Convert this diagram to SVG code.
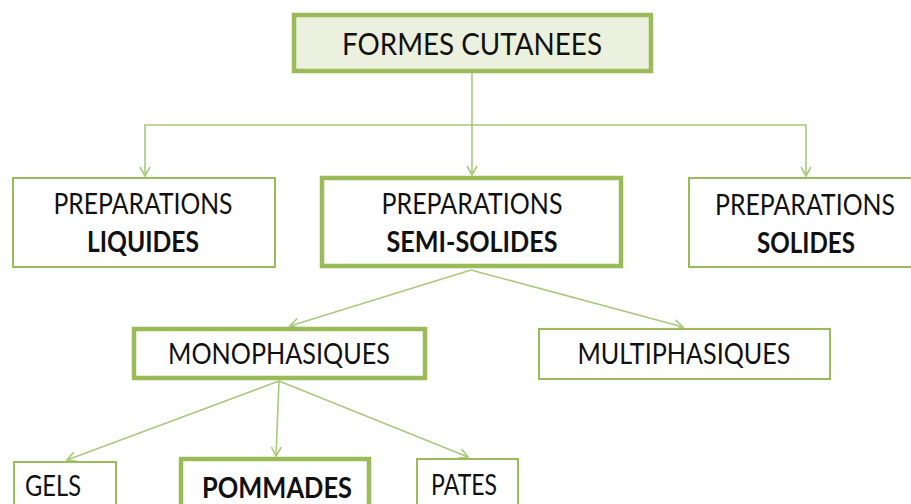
<svg xmlns="http://www.w3.org/2000/svg" width="911" height="504" viewBox="0 0 911 504">
<style>
  .box{fill:#ffffff;stroke:#9bbb59;stroke-width:2}
  .thick{fill:#ffffff;stroke:#9bbb59;stroke-width:4.5}
  .root{fill:#ebf1de;stroke:#9bbb59;stroke-width:4.5}
  .t{font-family:Lato,"Liberation Sans",sans-serif;font-size:28px;fill:#111111;text-anchor:middle}
  .b{font-weight:bold}
  .c{fill:none;stroke:#a9c97c;stroke-width:1.6}
</style>
<defs>
  <marker id="arr" markerUnits="userSpaceOnUse" markerWidth="14" markerHeight="14" refX="10" refY="6" orient="auto">
    <path d="M1,1 L10,6 L1,11" fill="none" stroke="#a9c97c" stroke-width="1.6"/>
  </marker>
</defs>
<g id="connectors">
  <path class="c" d="M472,73 V175" marker-end="url(#arr)"/>
  <path class="c" d="M472,125 H145 V176" marker-end="url(#arr)"/>
  <path class="c" d="M472,125 H806 V176" marker-end="url(#arr)"/>
  <path class="c" d="M471,270 L290,326" marker-end="url(#arr)"/>
  <path class="c" d="M471,270 L683,327" marker-end="url(#arr)"/>
  <path class="c" d="M279,381 L67,460" marker-end="url(#arr)"/>
  <path class="c" d="M279,381 L276,456" marker-end="url(#arr)"/>
  <path class="c" d="M279,381 L468,457" marker-end="url(#arr)"/>
</g>
<g id="formes-cutanees">
  <rect class="root" x="294" y="15" width="357" height="56"/>
  <text class="t" x="472" y="55" textLength="260" lengthAdjust="spacingAndGlyphs" style="font-size:31px">FORMES CUTANEES</text>
</g>
<g id="preparations-liquides">
  <rect class="box" x="13" y="178" width="262" height="89"/>
  <text class="t" x="143" y="214" textLength="179" lengthAdjust="spacingAndGlyphs">PREPARATIONS</text>
  <text class="t b" x="143" y="252" textLength="112" lengthAdjust="spacingAndGlyphs">LIQUIDES</text>
</g>
<g id="preparations-semi-solides">
  <rect class="thick" x="322" y="178" width="299" height="88"/>
  <text class="t" x="472" y="214" textLength="181" lengthAdjust="spacingAndGlyphs">PREPARATIONS</text>
  <text class="t b" x="472" y="252" textLength="171" lengthAdjust="spacingAndGlyphs">SEMI-SOLIDES</text>
</g>
<g id="preparations-solides">
  <rect class="box" x="689" y="178" width="240" height="89"/>
  <text class="t" x="805" y="215" textLength="180" lengthAdjust="spacingAndGlyphs">PREPARATIONS</text>
  <text class="t b" x="806" y="253" textLength="98" lengthAdjust="spacingAndGlyphs">SOLIDES</text>
</g>
<g id="monophasiques">
  <rect class="thick" x="134" y="329" width="291" height="49"/>
  <text class="t" x="279" y="364" textLength="222" lengthAdjust="spacingAndGlyphs">MONOPHASIQUES</text>
</g>
<g id="multiphasiques">
  <rect class="box" x="539" y="329" width="291" height="50"/>
  <text class="t" x="684" y="364" textLength="213" lengthAdjust="spacingAndGlyphs">MULTIPHASIQUES</text>
</g>
<g id="gels">
  <rect class="box" x="14" y="462" width="102" height="60"/>
  <text class="t" x="53" y="496" textLength="56" lengthAdjust="spacingAndGlyphs">GELS</text>
</g>
<g id="pommades">
  <rect class="thick" x="181" y="459" width="188" height="60"/>
  <text class="t b" x="277" y="498" textLength="150" lengthAdjust="spacingAndGlyphs">POMMADES</text>
</g>
<g id="pates">
  <rect class="box" x="417" y="459" width="101" height="60"/>
  <text class="t" x="464" y="495" textLength="66" lengthAdjust="spacingAndGlyphs">PATES</text>
</g>
</svg>
